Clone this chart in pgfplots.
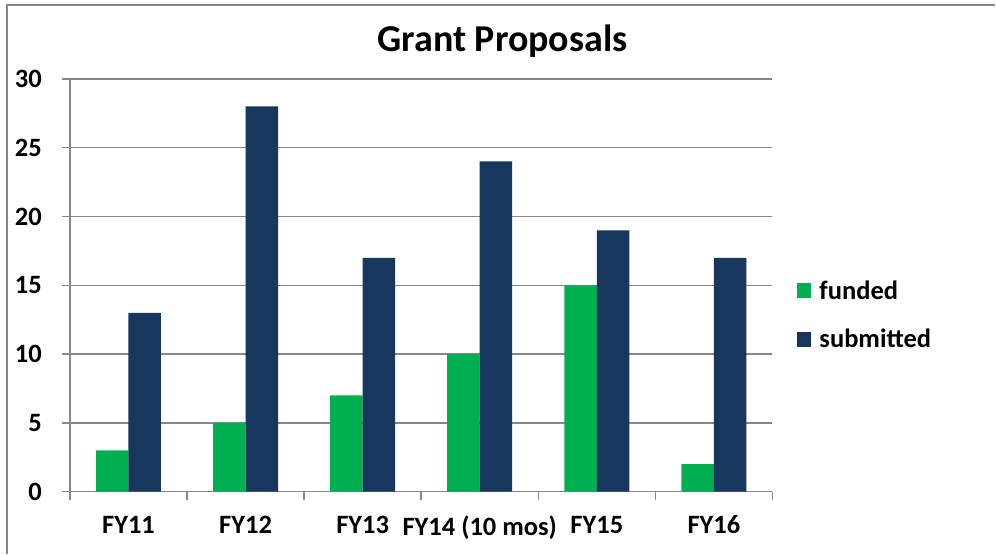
\documentclass[border=0pt]{standalone}
\usepackage{fontspec}
\setmainfont{Carlito}
\usepackage{pgfplots}
\pgfplotsset{compat=1.18}
\definecolor{fgreen}{HTML}{00B050}
\definecolor{fnavy}{HTML}{17375E}
\definecolor{gridc}{HTML}{878787}
\begin{document}
\begin{tikzpicture}[x=1pt,y=1pt]
\fill[white] (0,0) rectangle (996,554);
\draw[gridc, line width=1.5pt] (7,0) -- (7,549) -- (996,549);
\node[font=\fontsize{38}{42}\selectfont\bfseries, anchor=base, inner sep=0pt] at (503,502) {Grant Proposals};
\begin{axis}[
  at={(70pt,62pt)}, anchor=south west,
  scale only axis, width=703pt, height=413pt,
  ymin=0, ymax=30, ytick={0,5,...,30},
  xmin=-0.5, xmax=5.5, xtick={0,...,5},
  xticklabels={FY11,FY12,FY13,FY14 (10 mos),FY15,FY16},
  minor xtick={-0.5,0.5,...,5.5},
  ybar=0pt, bar width=32.5pt,
  axis lines=left,
  axis line style={-, gridc, line width=1.5pt},
  tick align=outside,
  tick style={gridc, line width=1.5pt},
  major tick length=8pt, minor tick length=8pt,
  major x tick style={draw=none},
  ymajorgrids, grid style={gridc, line width=1.5pt},
  tick label style={font=\fontsize{26.5}{30}\selectfont\bfseries, /pgf/number format/assume math mode=true},
  yticklabel style={inner sep=0pt, xshift=-20pt},
  xticklabel style={inner sep=0pt, yshift=-16pt},
  legend style={at={(1.034,0.428)}, anchor=west, draw=none, fill=none, inner sep=0pt,
    font=\fontsize{26.5}{30}\selectfont\bfseries, row sep=28pt,
    nodes={inner sep=0pt, anchor=west}, column sep=8pt},
  legend cell align=left,
  legend image code/.code={\fill[#1] (0pt,-7.5pt) rectangle (15pt,7.5pt);},
]
\addplot[fill=fgreen, draw=none] coordinates {(0,3) (1,5) (2,7) (3,10) (4,15) (5,2)};
\addplot[fill=fnavy, draw=none] coordinates {(0,13) (1,28) (2,17) (3,24) (4,19) (5,17)};
\legend{funded, submitted}
\end{axis}
\end{tikzpicture}
\end{document}
